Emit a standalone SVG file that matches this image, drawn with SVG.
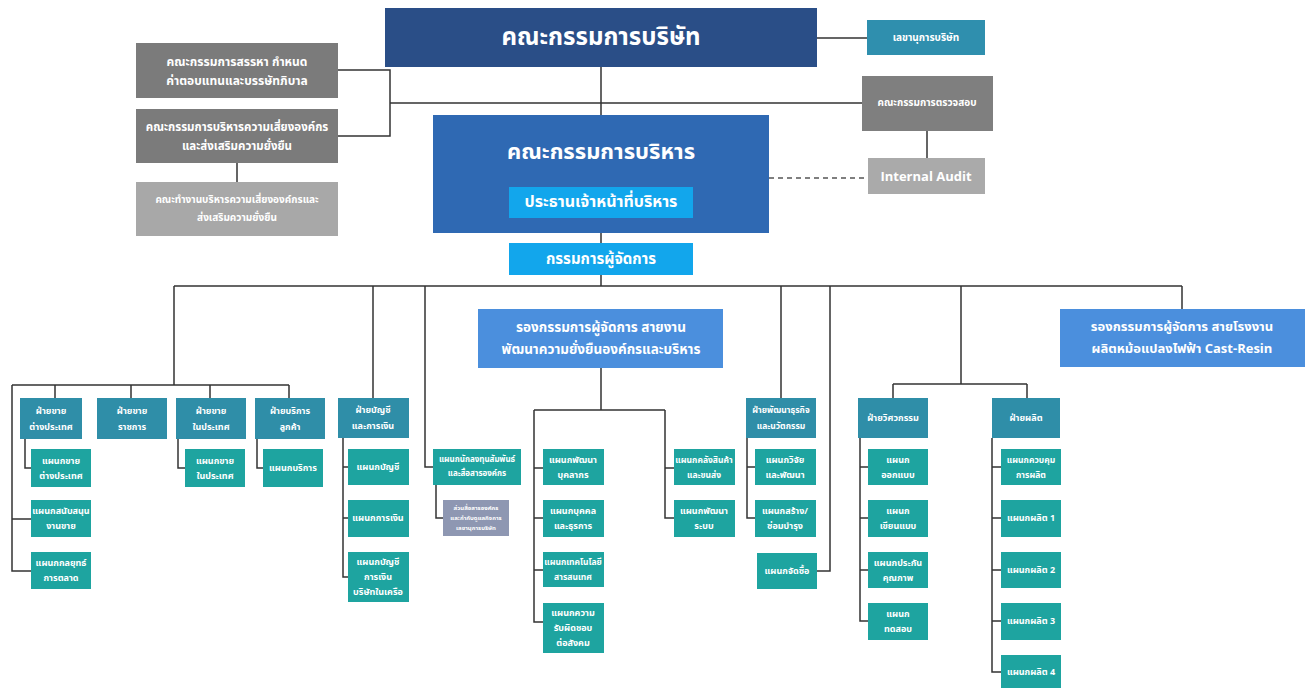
<svg xmlns="http://www.w3.org/2000/svg" width="1313" height="688" viewBox="0 0 1313 688">
<style>
.c{fill:none;stroke:#333;stroke-width:1.5}
.d{fill:none;stroke:#555;stroke-width:1.3;stroke-dasharray:5 4}
text{font-family:"Noto Sans Thai","Noto Sans Thai UI","Loma","Garuda","Tahoma","Noto Sans",sans-serif;fill:#fff;font-weight:bold;text-anchor:middle;dominant-baseline:central}
.div{fill:#2f8ea8}
.dep{fill:#1ea4a0}
.s{font-size:9px}
</style>
<rect width="1313" height="688" fill="#fff"/>
<g id="connectors">
<path class="c" d="M817 38H867M601 67V115M390 103H862M338 70H390V136H338M237 163V182M927 131V158"/>
<path class="d" d="M769 178H868"/>
<path class="c" d="M601 233V243M601 275V286M174 286H1182M1182 286V309"/>
<path class="c" d="M174 286V385M12 385H289M55 385V398M131 385V398M210 385V398M289 385V398M12 385V571H31M12 519H31M25 439V468H31M178 439V468H185M257 439V468H263"/>
<path class="c" d="M373 286V398M343 438V577H348M343 467H348M343 518H348M425 286V467H433M436 485V518H443"/>
<path class="c" d="M601 368V410M534 410H665M534 410V622H543M534 468H543M534 518H543M534 570H543M665 410V518H674M665 468H674"/>
<path class="c" d="M781 286V398M747 438V518H755M747 467H755M830 286V571H817"/>
<path class="c" d="M961 286V384M893 384H1027M893 384V398M1027 384V398M860 438V621H868M860 467H868M860 518H868M860 570H868"/>
<path class="c" d="M992 438V672H1001M992 467H1001M992 518H1001M992 570H1001M992 621H1001"/>
</g>
<g id="board"><rect x="385" y="8" width="432" height="59" fill="#2a4e87"/><text x="601" y="38" font-size="24">คณะกรรมการบริษัท</text></g>
<g id="secretary"><rect x="867" y="20" width="118" height="35" fill="#2f8fae"/><text x="926" y="38" font-size="10">เลขานุการบริษัท</text></g>
<g id="nomination"><rect x="136" y="43" width="202" height="55" fill="#7b7b7b"/><text x="237" font-size="12"><tspan x="237" y="62">คณะกรรมการสรรหา กำหนด</tspan><tspan x="237" y="81">ค่าตอบแทนและบรรษัทภิบาล</tspan></text></g>
<g id="risk"><rect x="136" y="109" width="202" height="54" fill="#7b7b7b"/><text x="237" font-size="11.5"><tspan x="237" y="127">คณะกรรมการบริหารความเสี่ยงองค์กร</tspan><tspan x="237" y="146">และส่งเสริมความยั่งยืน</tspan></text></g>
<g id="risk-wg"><rect x="136" y="182" width="202" height="54" fill="#a8a8a8"/><text x="237" font-size="10"><tspan x="237" y="200">คณะทำงานบริหารความเสี่ยงองค์กรและ</tspan><tspan x="237" y="218">ส่งเสริมความยั่งยืน</tspan></text></g>
<g id="audit-committee"><rect x="862" y="76" width="131" height="55" fill="#7f7f7f"/><text x="927" y="103" font-size="10">คณะกรรมการตรวจสอบ</text></g>
<g id="internal-audit"><rect x="868" y="158" width="117" height="36" fill="#aaaaaa"/><text x="926" y="176" font-size="13" style="font-family:'Open Sans','Liberation Sans',sans-serif">Internal Audit</text></g>
<g id="exec-committee"><rect x="433" y="115" width="336" height="118" fill="#2f69b3"/><text x="601" y="152" font-size="22">คณะกรรมการบริหาร</text>
<rect x="509" y="187" width="184" height="31" fill="#12a6ec"/><text x="601" y="202" font-size="16">ประธานเจ้าหน้าที่บริหาร</text></g>
<g id="md"><rect x="509" y="243" width="184" height="32" fill="#12a6ec"/><text x="601" y="259" font-size="15">กรรมการผู้จัดการ</text></g>
<g id="vp-admin"><rect x="478" y="309" width="245" height="59" fill="#4b8fdd"/><text font-size="13.5"><tspan x="601" y="328">รองกรรมการผู้จัดการ สายงาน</tspan><tspan x="601" y="350">พัฒนาความยั่งยืนองค์กรและบริหาร</tspan></text></g>
<g id="vp-plant"><rect x="1060" y="309" width="245" height="58" fill="#4b8fdd"/><text font-size="13"><tspan x="1182" y="327">รองกรรมการผู้จัดการ สายโรงงาน</tspan><tspan x="1182" y="349">ผลิตหม้อแปลงไฟฟ้า Cast-Resin</tspan></text></g>

<g id="div-export"><rect class="div" x="20" y="398" width="62" height="41"/><text class="s"><tspan x="51" y="411">ฝ่ายขาย</tspan><tspan x="51" y="427">ต่างประเทศ</tspan></text></g>
<g id="div-gov"><rect class="div" x="97" y="398" width="70" height="41"/><text class="s"><tspan x="132" y="411">ฝ่ายขาย</tspan><tspan x="132" y="427">ราชการ</tspan></text></g>
<g id="div-domestic"><rect class="div" x="176" y="398" width="70" height="41"/><text class="s"><tspan x="211" y="411">ฝ่ายขาย</tspan><tspan x="211" y="427">ในประเทศ</tspan></text></g>
<g id="div-service"><rect class="div" x="255" y="398" width="70" height="41"/><text class="s"><tspan x="290" y="411">ฝ่ายบริการ</tspan><tspan x="290" y="427">ลูกค้า</tspan></text></g>
<g id="dep-export"><rect class="dep" x="31" y="449" width="60" height="38"/><text class="s"><tspan x="61" y="461">แผนกขาย</tspan><tspan x="61" y="476">ต่างประเทศ</tspan></text></g>
<g id="dep-salessupport"><rect class="dep" x="31" y="500" width="60" height="37"/><text class="s"><tspan x="61" y="511">แผนกสนับสนุน</tspan><tspan x="61" y="526">งานขาย</tspan></text></g>
<g id="dep-marketing"><rect class="dep" x="31" y="552" width="60" height="37"/><text class="s"><tspan x="61" y="563">แผนกกลยุทธ์</tspan><tspan x="61" y="578">การตลาด</tspan></text></g>
<g id="dep-domestic"><rect class="dep" x="185" y="449" width="60" height="38"/><text class="s"><tspan x="215" y="461">แผนกขาย</tspan><tspan x="215" y="476">ในประเทศ</tspan></text></g>
<g id="dep-service"><rect class="dep" x="263" y="449" width="60" height="38"/><text class="s" x="293" y="468">แผนกบริการ</text></g>

<g id="div-account"><rect class="div" x="338" y="398" width="71" height="40"/><text class="s"><tspan x="373" y="410">ฝ่ายบัญชี</tspan><tspan x="373" y="426">และการเงิน</tspan></text></g>
<g id="dep-account"><rect class="dep" x="348" y="449" width="61" height="36"/><text class="s" x="378" y="467">แผนกบัญชี</text></g>
<g id="dep-finance"><rect class="dep" x="348" y="500" width="61" height="37"/><text class="s" x="378" y="518">แผนกการเงิน</text></g>
<g id="dep-subsidiary"><rect class="dep" x="348" y="552" width="61" height="50"/><text class="s"><tspan x="378" y="562">แผนกบัญชี</tspan><tspan x="378" y="577">การเงิน</tspan><tspan x="378" y="592">บริษัทในเครือ</tspan></text></g>
<g id="dep-ir"><rect class="dep" x="433" y="449" width="88" height="36"/><text font-size="8"><tspan x="477" y="460">แผนกนักลงทุนสัมพันธ์</tspan><tspan x="477" y="474">และสื่อสารองค์กร</tspan></text></g>
<g id="sec-corpcomm"><rect x="443" y="500" width="66" height="36" fill="#8e97b2"/><text font-size="6"><tspan x="476" y="508">ส่วนสื่อสารองค์กร</tspan><tspan x="476" y="518">และกำกับดูแลกิจการ</tspan><tspan x="476" y="528">เลขานุการบริษัท</tspan></text></g>

<g id="dep-hrd"><rect class="dep" x="543" y="449" width="61" height="36"/><text class="s"><tspan x="573" y="460">แผนกพัฒนา</tspan><tspan x="573" y="475">บุคลากร</tspan></text></g>
<g id="dep-hr"><rect class="dep" x="543" y="500" width="61" height="37"/><text class="s"><tspan x="573" y="511">แผนกบุคคล</tspan><tspan x="573" y="526">และธุรการ</tspan></text></g>
<g id="dep-it"><rect class="dep" x="543" y="552" width="61" height="35"/><text font-size="8.5"><tspan x="573" y="562">แผนกเทคโนโลยี</tspan><tspan x="573" y="577">สารสนเทศ</tspan></text></g>
<g id="dep-csr"><rect class="dep" x="543" y="603" width="61" height="50"/><text class="s"><tspan x="573" y="613">แผนกความ</tspan><tspan x="573" y="628">รับผิดชอบ</tspan><tspan x="573" y="643">ต่อสังคม</tspan></text></g>
<g id="dep-warehouse"><rect class="dep" x="674" y="449" width="61" height="36"/><text font-size="8.5"><tspan x="704" y="460">แผนกคลังสินค้า</tspan><tspan x="704" y="475">และขนส่ง</tspan></text></g>
<g id="dep-system"><rect class="dep" x="674" y="500" width="61" height="37"/><text class="s"><tspan x="704" y="511">แผนกพัฒนา</tspan><tspan x="704" y="526">ระบบ</tspan></text></g>

<g id="div-bizdev"><rect class="div" x="746" y="398" width="70" height="40"/><text font-size="8.5"><tspan x="781" y="410">ฝ่ายพัฒนาธุรกิจ</tspan><tspan x="781" y="426">และนวัตกรรม</tspan></text></g>
<g id="dep-rd"><rect class="dep" x="755" y="449" width="61" height="36"/><text class="s"><tspan x="785" y="460">แผนกวิจัย</tspan><tspan x="785" y="475">และพัฒนา</tspan></text></g>
<g id="dep-maint"><rect class="dep" x="755" y="500" width="61" height="37"/><text class="s"><tspan x="785" y="511">แผนกสร้าง/</tspan><tspan x="785" y="526">ซ่อมบำรุง</tspan></text></g>
<g id="dep-purchase"><rect class="dep" x="757" y="553" width="60" height="36"/><text class="s" x="787" y="571">แผนกจัดซื้อ</text></g>

<g id="div-eng"><rect class="div" x="858" y="398" width="70" height="40"/><text class="s" x="893" y="418">ฝ่ายวิศวกรรม</text></g>
<g id="dep-design"><rect class="dep" x="868" y="449" width="60" height="36"/><text class="s"><tspan x="898" y="460">แผนก</tspan><tspan x="898" y="475">ออกแบบ</tspan></text></g>
<g id="dep-drafting"><rect class="dep" x="868" y="500" width="60" height="37"/><text class="s"><tspan x="898" y="511">แผนก</tspan><tspan x="898" y="526">เขียนแบบ</tspan></text></g>
<g id="dep-qa"><rect class="dep" x="868" y="552" width="60" height="36"/><text class="s"><tspan x="898" y="563">แผนกประกัน</tspan><tspan x="898" y="578">คุณภาพ</tspan></text></g>
<g id="dep-test"><rect class="dep" x="868" y="603" width="60" height="37"/><text class="s"><tspan x="898" y="614">แผนก</tspan><tspan x="898" y="629">ทดสอบ</tspan></text></g>

<g id="div-prod"><rect class="div" x="992" y="398" width="68" height="40"/><text class="s" x="1026" y="418">ฝ่ายผลิต</text></g>
<g id="dep-prodctl"><rect class="dep" x="1001" y="449" width="60" height="36"/><text font-size="8.5"><tspan x="1031" y="460">แผนกควบคุม</tspan><tspan x="1031" y="475">การผลิต</tspan></text></g>
<g id="dep-prod1"><rect class="dep" x="1001" y="500" width="60" height="37"/><text class="s" x="1031" y="518">แผนกผลิต 1</text></g>
<g id="dep-prod2"><rect class="dep" x="1001" y="552" width="60" height="36"/><text class="s" x="1031" y="570">แผนกผลิต 2</text></g>
<g id="dep-prod3"><rect class="dep" x="1001" y="603" width="60" height="37"/><text class="s" x="1031" y="621">แผนกผลิต 3</text></g>
<g id="dep-prod4"><rect class="dep" x="1001" y="655" width="60" height="33"/><text class="s" x="1031" y="672">แผนกผลิต 4</text></g>
</svg>
